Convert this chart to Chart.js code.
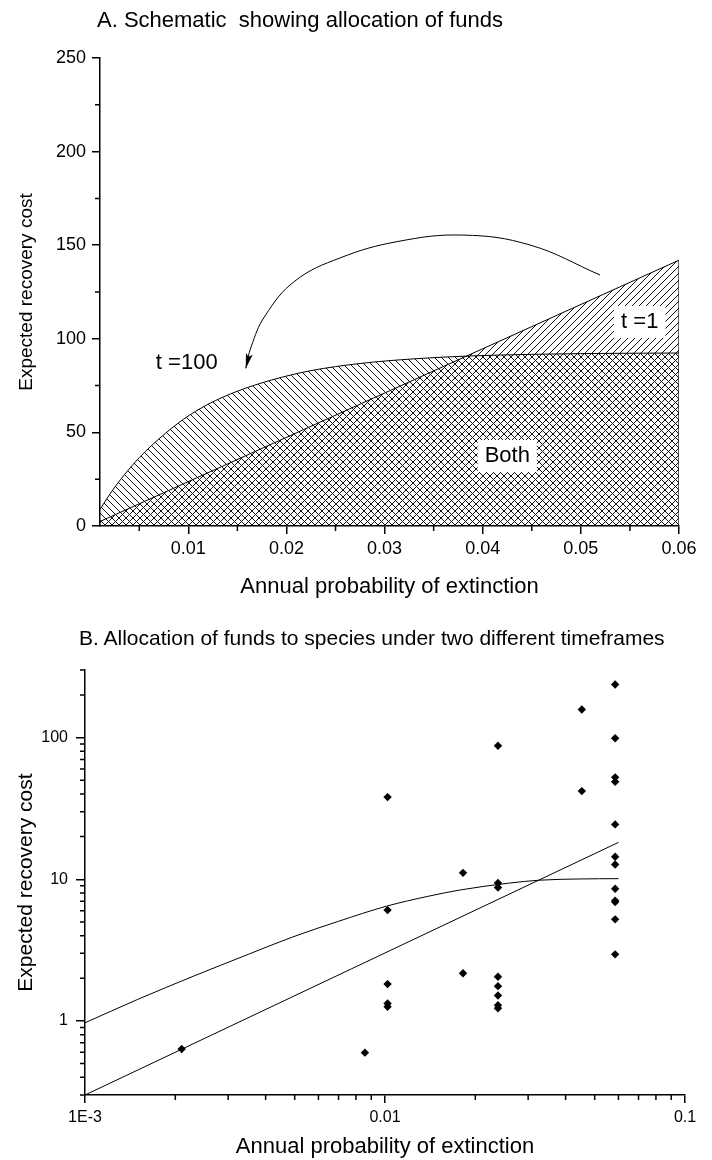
<!DOCTYPE html>
<html>
<head>
<meta charset="utf-8">
<script src="https://cdn.jsdelivr.net/npm/chart.js@4.4.1/dist/chart.umd.min.js"></script>
<style>
  html, body { margin: 0; padding: 0; background: #fff; }
  #wrap { position: relative; width: 712px; height: 1160px; font-family: 'Liberation Sans', Arial, sans-serif; }
  canvas { position: absolute; left: 0; }
  .ttl { position: absolute; white-space: nowrap; color: #000; }
</style>
</head>
<body>
<div id="wrap">
  <canvas id="chartA" width="712" height="610" style="top:0"></canvas>
  <canvas id="chartB" width="712" height="550" style="top:610px"></canvas>
  <div class="ttl" style="left:97px; top:7px; font-size:22px; line-height:26px;">A. Schematic&nbsp; showing allocation of funds</div>
  <div class="ttl" style="left:79px; top:625px; font-size:21px; line-height:26px;">B. Allocation of funds to species under two different timeframes</div>
</div>
<script>
// ---- panel A : schematic ----
const aTicksX = [0.01, 0.02, 0.03, 0.04, 0.05, 0.06];
const aMinorX = [0.005, 0.015, 0.025, 0.035, 0.045, 0.055];
const aTicksY = [0, 50, 100, 150, 200, 250];
const aMinorY = [25, 75, 125, 175, 225];

// t = 100 curve
const t100X = [0.001, 0.002, 0.0035, 0.005, 0.007, 0.0095, 0.012, 0.015, 0.0185, 0.0225, 0.0275, 0.033, 0.0385, 0.045, 0.05, 0.06];
const t100Y = [8.8, 17, 27.5, 36.5, 46.5, 57, 65, 72, 78, 83, 86.8, 89.3, 90.8, 91.7, 92.1, 92.4];
// t = 1 line
const t1X = [0.001, 0.06];
const t1Y = [2.4, 142];
// curved arrow (from t =1 over to t =100)
const arrowX = [0.05195, 0.04482, 0.03799, 0.03127, 0.02546, 0.02087, 0.01781, 0.01639, 0.01585];
const arrowY = [134.1, 150.1, 155.4, 151.9, 143.2, 130.9, 112.2, 95.6, 84.2];

// ---- panel B : species ----
const bTicksX = [0.001, 0.01, 0.1];
const bTickLabelsX = ['1E-3', '0.01', '0.1'];
const bMinorX = [0.002, 0.003, 0.004, 0.005, 0.006, 0.007, 0.008, 0.009, 0.02, 0.03, 0.04, 0.05, 0.06, 0.07, 0.08, 0.09];
const bTicksY = [1, 10, 100];
const bMinorY = [0.3, 0.4, 0.5, 0.6, 0.7, 0.8, 0.9, 2, 3, 4, 5, 6, 7, 8, 9, 20, 30, 40, 50, 60, 70, 80, 90, 200, 300];

const speciesP = [0.0021, 0.00857,
  0.0102, 0.0102, 0.0102, 0.0102, 0.0102,
  0.0182, 0.0182,
  0.0238, 0.0238, 0.0238, 0.0238, 0.0238, 0.0238, 0.0238, 0.0238,
  0.0453, 0.0453,
  0.0585, 0.0585, 0.0585, 0.0585, 0.0585, 0.0585, 0.0585, 0.0585, 0.0585, 0.0585, 0.0585, 0.0585];
const speciesCost = [0.634, 0.597,
  38, 6.06, 1.82, 1.33, 1.26,
  11.1, 2.17,
  87.5, 9.4, 8.75, 2.05, 1.76, 1.51, 1.29, 1.23,
  158, 41.9,
  237, 99, 52.4, 48.8, 24.4, 14.4, 12.7, 8.57, 7.05, 6.9, 5.21, 2.95];

const curve100X = [0.001, 0.0015, 0.0023, 0.0035, 0.0049, 0.007, 0.0101, 0.014, 0.0178, 0.026, 0.0327, 0.045, 0.06];
const curve100Y = [0.97, 1.42, 2.07, 2.95, 3.9, 5.05, 6.45, 7.6, 8.4, 9.4, 9.85, 10.05, 10.1];
const line1X = [0.001, 0.06];
const line1Y = [0.3, 18.2];

const FONT = "'Liberation Sans', Arial, sans-serif";
Chart.defaults.font.family = FONT;
Chart.defaults.color = '#000';

function pts(xs, ys) { return xs.map((x, i) => ({x: x, y: ys[i]})); }

// hatch pattern tile
function hatch(dir) {
  const s = 7;
  const c = document.createElement('canvas');
  c.width = s; c.height = s;
  const g = c.getContext('2d');
  g.strokeStyle = '#111';
  g.lineWidth = 1;
  g.beginPath();
  if (dir === 'back') {
    g.moveTo(-1, -1); g.lineTo(s + 1, s + 1);
    g.moveTo(-1, s - 1); g.lineTo(1, s + 1);
    g.moveTo(s - 1, -1); g.lineTo(s + 1, 1);
  } else {
    g.moveTo(-1, s + 1); g.lineTo(s + 1, -1);
    g.moveTo(-1, 1); g.lineTo(1, -1);
    g.moveTo(s - 1, s + 1); g.lineTo(s + 1, s - 1);
  }
  g.stroke();
  return g.createPattern(c, 'repeat');
}

// minor ticks, text labels, arrow head
const extras = {
  id: 'extras',
  afterDraw(chart, args, opts) {
    const ctx = chart.ctx;
    const sx = chart.scales.x, sy = chart.scales.y;
    ctx.save();
    ctx.strokeStyle = '#000';
    ctx.lineWidth = 1.5;
    ctx.beginPath();
    (opts.minorX || []).forEach(v => {
      const px = sx.getPixelForValue(v);
      ctx.moveTo(px, sx.top); ctx.lineTo(px, sx.top + opts.minorLen);
    });
    (opts.minorY || []).forEach(v => {
      const py = sy.getPixelForValue(v);
      ctx.moveTo(sy.right, py); ctx.lineTo(sy.right - opts.minorLen, py);
    });
    ctx.stroke();

    ctx.font = opts.labelFont || ('22px ' + FONT);
    ctx.textAlign = 'center';
    ctx.textBaseline = 'middle';
    (opts.labels || []).forEach(l => {
      const px = sx.getPixelForValue(l.x), py = sy.getPixelForValue(l.y);
      if (l.box) {
        const w = ctx.measureText(l.text).width;
        ctx.fillStyle = '#fff';
        ctx.fillRect(px - w / 2 - 7, py - 16, w + 14, 32);
      }
      ctx.fillStyle = '#000';
      ctx.fillText(l.text, px, py);
    });

    if (opts.arrowDataset !== undefined) {
      const el = chart.getDatasetMeta(opts.arrowDataset).data;
      const tip = el[el.length - 1], prev = el[el.length - 2];
      const dx = tip.x - prev.x, dy = tip.y - prev.y;
      const len = Math.hypot(dx, dy), ux = dx / len, uy = dy / len;
      const L = 15, W = 3.5;
      ctx.fillStyle = '#000';
      ctx.beginPath();
      ctx.moveTo(tip.x, tip.y);
      ctx.lineTo(tip.x - ux * L - uy * W, tip.y - uy * L + ux * W);
      ctx.lineTo(tip.x - ux * L * 0.8, tip.y - uy * L * 0.8);
      ctx.lineTo(tip.x - ux * L + uy * W, tip.y - uy * L - ux * W);
      ctx.closePath();
      ctx.fill();
    }
    ctx.restore();
  }
};

const axisLine = { display: true, color: '#000', width: 1.5 };
function tickGrid(len) {
  return { display: true, drawOnChartArea: false, drawTicks: true, tickLength: len, color: '#000', lineWidth: 1.5 };
}

// ---------- chart A ----------
new Chart(document.getElementById('chartA'), {
  type: 'line',
  data: {
    datasets: [
      { data: pts(t100X, t100Y), borderColor: '#000', borderWidth: 1, pointRadius: 0,
        fill: 'origin', backgroundColor: hatch('back'), cubicInterpolationMode: 'monotone' },
      { data: pts(t1X, t1Y), borderColor: '#000', borderWidth: 1, pointRadius: 0,
        fill: 'origin', backgroundColor: hatch('fwd') },
      { data: pts([0.06, 0.06], [0, 142]), borderColor: '#000', borderWidth: 1.2, pointRadius: 0, fill: false },
      { data: pts(arrowX, arrowY), borderColor: '#000', borderWidth: 1, pointRadius: 0, fill: false, tension: 0.4 }
    ]
  },
  options: {
    responsive: false, animation: false, devicePixelRatio: 1,
    layout: { padding: { left: 0, top: 58, right: 33, bottom: 0 } },
    plugins: {
      legend: { display: false }, tooltip: { enabled: false },
      extras: {
        minorX: aMinorX, minorY: aMinorY, minorLen: 5,
        labels: [
          { text: 't =100', x: 0.00984, y: 86.9 },
          { text: 't =1', x: 0.056, y: 109, box: true },
          { text: 'Both', x: 0.0425, y: 37.4, box: true }
        ],
        arrowDataset: 3
      }
    },
    scales: {
      x: {
        type: 'linear', min: 0.001, max: 0.06,
        afterBuildTicks: a => { a.ticks = aTicksX.map(v => ({ value: v })); },
        afterFit: a => { a.height = 84; },
        ticks: { font: { size: 18 }, padding: 4, maxRotation: 0, callback: v => v.toFixed(2) },
        grid: tickGrid(8), border: axisLine,
        title: { display: true, text: 'Annual probability of extinction', font: { size: 22 }, padding: { top: 0, bottom: 10 } }
      },
      y: {
        type: 'linear', min: 0, max: 250,
        afterBuildTicks: a => { a.ticks = aTicksY.map(v => ({ value: v })); },
        afterFit: a => { a.width = 100; },
        ticks: { font: { size: 18 }, padding: 6 },
        grid: tickGrid(8), border: axisLine,
        title: { display: true, text: 'Expected recovery cost', font: { size: 19 }, padding: { top: 15, bottom: 0 } }
      }
    }
  },
  plugins: [extras]
});

// ---------- chart B ----------
new Chart(document.getElementById('chartB'), {
  type: 'line',
  data: {
    datasets: [
      { data: pts(speciesP, speciesCost), showLine: false, pointStyle: 'rectRot', pointRadius: 4.2,
        backgroundColor: '#000', borderColor: '#000', borderWidth: 0 },
      { data: pts(curve100X, curve100Y), borderColor: '#000', borderWidth: 1, pointRadius: 0,
        fill: false, cubicInterpolationMode: 'monotone' },
      { data: pts(line1X, line1Y), borderColor: '#000', borderWidth: 1, pointRadius: 0, fill: false }
    ]
  },
  options: {
    responsive: false, animation: false, devicePixelRatio: 1,
    layout: { padding: { left: 0, top: 60, right: 27, bottom: 0 } },
    plugins: {
      legend: { display: false }, tooltip: { enabled: false },
      extras: { minorX: bMinorX, minorY: bMinorY, minorLen: 5 }
    },
    scales: {
      x: {
        type: 'logarithmic', min: 0.001, max: 0.1,
        afterBuildTicks: a => { a.ticks = bTicksX.map(v => ({ value: v })); },
        afterFit: a => { a.height = 65; },
        ticks: { font: { size: 16 }, padding: 5, maxRotation: 0, callback: (v, i) => bTickLabelsX[i] },
        grid: tickGrid(8), border: axisLine,
        title: { display: true, text: 'Annual probability of extinction', font: { size: 22 }, padding: { top: 0, bottom: 0 } }
      },
      y: {
        type: 'logarithmic', min: 0.3, max: 300,
        afterBuildTicks: a => { a.ticks = bTicksY.map(v => ({ value: v })); },
        afterFit: a => { a.width = 85; },
        ticks: { font: { size: 16 }, padding: 8, callback: v => String(v) },
        grid: tickGrid(9), border: axisLine,
        title: { display: true, text: 'Expected recovery cost', font: { size: 21 }, padding: { top: 14, bottom: 0 } }
      }
    }
  },
  plugins: [extras]
});
</script>
</body>
</html>
